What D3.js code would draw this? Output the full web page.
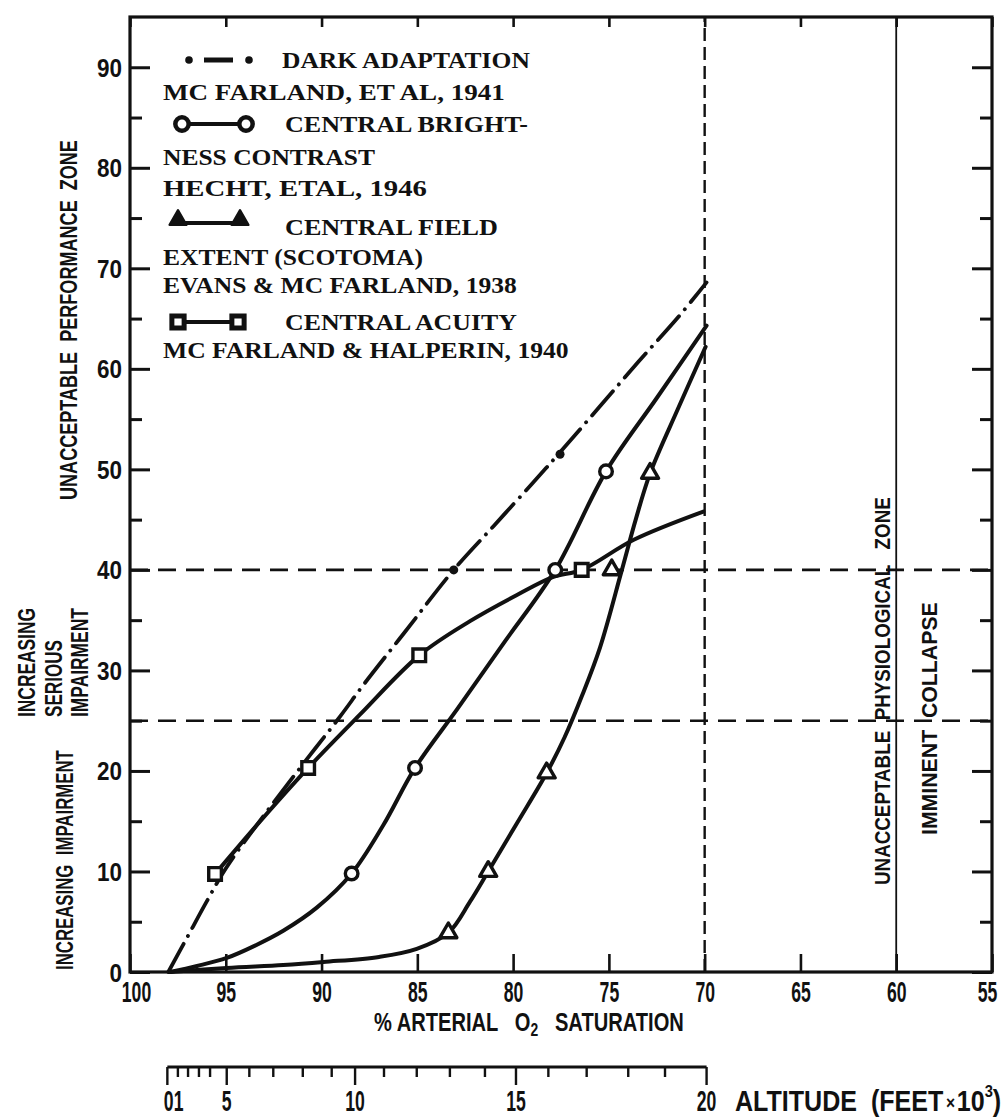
<!DOCTYPE html>
<html>
<head>
<meta charset="utf-8">
<script src="https://cdn.jsdelivr.net/npm/d3@7"></script>
<style>
html,body{margin:0;padding:0;background:#fff;}
svg{display:block;}
text{white-space:pre;}
</style>
</head>
<body>
<svg id="chart" width="1003" height="1118"></svg>
<script>
// ---------------- DATA ----------------
const saturationTicks = [100, 95, 90, 85, 80, 75, 70, 65, 60, 55];
const performanceMajorTicks = [0, 10, 20, 30, 40, 50, 60, 70, 80, 90];
const performanceMinorTicks = [5, 15, 25, 35, 45, 55, 65, 75, 85];
const zoneThresholds = [25, 40];
const dashedLimitSat = 70;
const collapseLimitSat = 60;

// Dark adaptation (McFarland et al., 1941)
const darkSat = [98, 97, 96, 95, 93, 91, 89, 87.8, 85.7, 83.1, 81, 79, 77.55, 75.5, 73.46, 71.4, 69.9];
const darkVal = [0, 3.5, 7, 10.3, 15.6, 20.6, 25.5, 28.6, 33.7, 40, 44.4, 48.6, 51.7, 56.2, 60.7, 65.1, 68.6];
const darkMarkSat = [83.1, 77.55];
const darkMarkVal = [40, 51.5];

// Central brightness contrast (Hecht et al., 1946)
const brightSat = [97.9, 96.5, 94.95, 93.5, 92, 90.25, 88.43, 86.78, 85.12, 82.9, 80.5, 77.8, 75.15, 72.5, 69.9];
const brightVal = [0, 0.6, 1.4, 2.6, 4.1, 6.4, 9.8, 14.6, 20.3, 26.2, 32.7, 40, 49.8, 57.1, 64.3];
const brightMarkSat = [88.43, 85.12, 77.8, 75.15];
const brightMarkVal = [9.8, 20.3, 40, 49.8];

// Central field extent (scotoma) (Evans & McFarland, 1938)
const fieldSat = [97.9, 94.95, 92, 89.9, 87, 85.03, 83.38, 82.25, 81.3, 79.8, 78.25, 77.3, 76.4, 75.46, 74.35, 73.6, 72.85, 71.4, 69.95];
const fieldVal = [0, 0.4, 0.7, 1.0, 1.5, 2.3, 3.9, 7.0, 10, 14.8, 19.8, 23.4, 27.5, 32.3, 39.8, 45, 49.6, 56, 62.2];
const fieldMarkSat = [83.38, 81.3, 78.25, 74.85, 72.85];
const fieldMarkVal = [3.9, 10, 19.8, 40, 49.6];

// Central acuity (McFarland & Halperin, 1940)
const acuitySat = [95.56, 93.2, 90.7, 88, 84.9, 82.25, 79.8, 77.9, 76.42, 73.7, 70.07];
const acuityVal = [9.75, 15, 20.3, 25.6, 31.5, 34.9, 37.5, 39.3, 40, 43, 45.8];
const acuityMarkSat = [95.56, 90.7, 84.9, 76.42];
const acuityMarkVal = [9.75, 20.3, 31.5, 40];

// Altitude ruler: thousands of feet and the matching arterial O2 saturation
const altitudeK = [0, 1, 2, 3, 4, 5, 6, 7, 8, 9, 10, 11, 12, 13, 14, 15, 16, 17, 18, 19, 20];
const altitudeSat = [98.05, 97.5, 96.97, 96.4, 95.82, 94.95, 93.77, 92.52, 90.98, 89.47, 88.25, 86.74, 85.03, 83.3, 81.47, 79.85, 78.16, 76.16, 73.99, 72.07, 69.9];
const altitudeMajor = [0, 5, 10, 15, 20];
const altitudeLabels = ["01", "5", "10", "15", "20"];
const altitudeLabelAt = [0.5, 5, 10, 15, 20];

const legendLines = ["DARK ADAPTATION", "MC FARLAND, ET AL, 1941", "CENTRAL BRIGHT-", "NESS CONTRAST",
  "HECHT, ETAL, 1946", "CENTRAL FIELD", "EXTENT (SCOTOMA)", "EVANS & MC FARLAND, 1938",
  "CENTRAL ACUITY", "MC FARLAND & HALPERIN, 1940"];

// ---------------- DRAWING ----------------
const INK = "#111";
const SANS = "'Liberation Sans', Arial, sans-serif";
const SERIF = "'Liberation Serif', 'DejaVu Serif', serif";
const svg = d3.select("#chart");
svg.append("rect").attr("width", 1003).attr("height", 1118).attr("fill", "#fff");

const x = d3.scaleLinear().domain([100, 55]).range([130, 992]);
const y = d3.scaleLinear().domain([0, 95]).range([972, 17]);
const zip = (a, b) => a.map((v, i) => [v, b[i]]);

// condense a text horizontally (in its own direction) to a target width
function squeeze(t, px, py, width, rotate) {
  const w = t.node().getComputedTextLength();
  const s = width / w;
  t.attr("x", null).attr("y", null).attr("dy", null)
    .attr("transform", `translate(${px},${py})${rotate ? " rotate(-90)" : ""} scale(${s},1)`);
  return t;
}
function label(parent, str, px, py, width, size, opts = {}) {
  const t = parent.append("text").text(str)
    .attr("font-family", opts.family || SANS).attr("font-weight", "bold")
    .attr("font-size", size).attr("fill", INK).attr("text-anchor", opts.anchor || "start");
  return squeeze(t, px, py, width, opts.rotate);
}

// Reference lines
const g = svg.append("g");
zoneThresholds.forEach(v => {
  g.append("line").attr("x1", x(100)).attr("x2", x(55)).attr("y1", y(v)).attr("y2", y(v))
    .attr("stroke", INK).attr("stroke-width", 2.6).attr("stroke-dasharray", "18,10");
});
g.append("line").attr("x1", x(dashedLimitSat)).attr("x2", x(dashedLimitSat)).attr("y1", y(0)).attr("y2", y(95))
  .attr("stroke", INK).attr("stroke-width", 2.4).attr("stroke-dasharray", "13,6");
g.append("line").attr("x1", x(collapseLimitSat)).attr("x2", x(collapseLimitSat)).attr("y1", y(0)).attr("y2", y(95))
  .attr("stroke", INK).attr("stroke-width", 1.8);

// Axes (ticks inward)
const axL = svg.append("g").attr("transform", `translate(${x(100)},0)`)
  .call(d3.axisLeft(y).tickValues(performanceMajorTicks).tickSize(-20).tickSizeOuter(0));
axL.append("g").call(d3.axisLeft(y).tickValues(performanceMinorTicks).tickSize(-12).tickFormat(""));
axL.selectAll("path.domain").remove();
axL.selectAll("line").attr("stroke", INK).attr("stroke-width", 3);
axL.selectAll("text").attr("font-family", SANS).attr("font-weight", "bold").attr("font-size", 26)
  .attr("fill", INK).attr("text-anchor", "end")
  .each(function(d) { squeeze(d3.select(this), -8, 9, String(d).length * 12.5); });

const axR = svg.append("g").attr("transform", `translate(${x(55)},0)`)
  .call(d3.axisRight(y).tickValues(performanceMajorTicks).tickSize(-20).tickFormat("").tickSizeOuter(0));
axR.append("g").call(d3.axisRight(y).tickValues(performanceMinorTicks).tickSize(-12).tickFormat(""));
axR.selectAll("path.domain").remove();
axR.selectAll("line").attr("stroke", INK).attr("stroke-width", 3);

const axB = svg.append("g").attr("transform", `translate(0,${y(0)})`)
  .call(d3.axisBottom(x).tickValues(saturationTicks).tickSize(-18).tickSizeOuter(0));
axB.selectAll("path.domain").remove();
axB.selectAll("line").attr("stroke", INK).attr("stroke-width", 2.6);
axB.selectAll("text").attr("font-family", SANS).attr("font-weight", "bold").attr("font-size", 30)
  .attr("fill", INK).attr("text-anchor", "middle")
  .each(function(d) { squeeze(d3.select(this), d === 100 ? 6 : (d === 55 ? -5 : 0), 30, String(d).length * 9.8); });

const axT = svg.append("g").attr("transform", `translate(0,${y(95)})`)
  .call(d3.axisTop(x).tickValues(saturationTicks).tickSize(-10).tickFormat("").tickSizeOuter(0));
axT.selectAll("path.domain").remove();
axT.selectAll("line").attr("stroke", INK).attr("stroke-width", 2.6);

// Frame
svg.append("rect").attr("x", x(100)).attr("y", y(95)).attr("width", x(55) - x(100)).attr("height", y(0) - y(95))
  .attr("fill", "none").attr("stroke", INK).attr("stroke-width", 3.2);

// Curves
const line = d3.line().x(d => x(d[0])).y(d => y(d[1])).curve(d3.curveCatmullRom.alpha(0.5));
const curves = svg.append("g").attr("fill", "none").attr("stroke", INK).attr("stroke-linejoin", "round");
curves.append("path").attr("d", line(zip(darkSat, darkVal))).attr("stroke-width", 3.8)
  .attr("stroke-dasharray", "32,9,0.1,9").attr("stroke-linecap", "round");
curves.append("path").attr("d", line(zip(brightSat, brightVal))).attr("stroke-width", 4).attr("stroke-linecap", "round");
curves.append("path").attr("d", line(zip(fieldSat, fieldVal))).attr("stroke-width", 4).attr("stroke-linecap", "round");
curves.append("path").attr("d", line(zip(acuitySat, acuityVal))).attr("stroke-width", 4).attr("stroke-linecap", "round");

// Markers
const sym = (type, size) => d3.symbol().type(type).size(size)();
const mk = svg.append("g");
mk.selectAll(".dk").data(zip(darkMarkSat, darkMarkVal)).join("circle")
  .attr("cx", d => x(d[0])).attr("cy", d => y(d[1])).attr("r", 4.5).attr("fill", INK);
mk.selectAll(".br").data(zip(brightMarkSat, brightMarkVal)).join("path").attr("class", "br")
  .attr("d", sym(d3.symbolCircle, 125)).attr("transform", d => `translate(${x(d[0])},${y(d[1])})`)
  .attr("fill", "#fff").attr("stroke", INK).attr("stroke-width", 3.4);
mk.selectAll(".fd").data(zip(fieldMarkSat, fieldMarkVal)).join("path").attr("class", "fd")
  .attr("d", sym(d3.symbolTriangle, 125)).attr("transform", d => `translate(${x(d[0])},${y(d[1])})`)
  .attr("fill", "#fff").attr("stroke", INK).attr("stroke-width", 3.4).attr("stroke-linejoin", "round");
mk.selectAll(".ac").data(zip(acuityMarkSat, acuityMarkVal)).join("path").attr("class", "ac")
  .attr("d", sym(d3.symbolSquare, 160)).attr("transform", d => `translate(${x(d[0])},${y(d[1])})`)
  .attr("fill", "#fff").attr("stroke", INK).attr("stroke-width", 3.4);

// Legend
const lg = svg.append("g");
const legendLayout = [[282, 68, 248], [163, 100, 342], [285, 132, 243], [163, 165, 212], [163, 196, 264],
  [285, 235, 213], [163, 265, 260], [163, 293, 354], [285, 330, 232], [163, 358, 406]];
legendLines.forEach((t, i) => {
  const [lx, ly, lw] = legendLayout[i];
  label(lg, t, lx, ly, lw, 23, { family: SERIF });
});
lg.append("circle").attr("cx", 189).attr("cy", 60).attr("r", 3.8).attr("fill", INK);
lg.append("line").attr("x1", 204).attr("x2", 233).attr("y1", 60).attr("y2", 60).attr("stroke", INK).attr("stroke-width", 5);
lg.append("circle").attr("cx", 249).attr("cy", 60).attr("r", 3.8).attr("fill", INK);

lg.append("line").attr("x1", 182).attr("x2", 246).attr("y1", 124).attr("y2", 124).attr("stroke", INK).attr("stroke-width", 4);
[182, 246].forEach(cx => lg.append("path").attr("d", sym(d3.symbolCircle, 140))
  .attr("transform", `translate(${cx},124)`).attr("fill", "#fff").attr("stroke", INK).attr("stroke-width", 4.5));

lg.append("line").attr("x1", 178).attr("x2", 240).attr("y1", 223).attr("y2", 223).attr("stroke", INK).attr("stroke-width", 4);
[178, 240].forEach(cx => lg.append("path").attr("d", sym(d3.symbolTriangle, 120))
  .attr("transform", `translate(${cx},220)`).attr("fill", INK).attr("stroke", INK).attr("stroke-width", 2.5).attr("stroke-linejoin", "round"));

lg.append("line").attr("x1", 178).attr("x2", 238).attr("y1", 322).attr("y2", 322).attr("stroke", INK).attr("stroke-width", 4);
[178, 238].forEach(cx => lg.append("path").attr("d", sym(d3.symbolSquare, 150))
  .attr("transform", `translate(${cx},322)`).attr("fill", "#fff").attr("stroke", INK).attr("stroke-width", 5));

// Rotated side labels
const side = svg.append("g");
label(side, "UNACCEPTABLE  PERFORMANCE  ZONE", 77, 500, 360, 24, { rotate: true });
label(side, "INCREASING", 35, 717, 109, 24, { rotate: true });
label(side, "SERIOUS", 61.5, 717, 77, 23, { rotate: true });
label(side, "IMPAIRMENT", 88, 717, 109, 24, { rotate: true });
label(side, "INCREASING  IMPAIRMENT", 73, 970, 220, 24, { rotate: true });
label(side, "UNACCEPTABLE  PHYSIOLOGICAL   ZONE", 890, 885, 388, 22, { rotate: true });
label(side, "IMMINENT  COLLAPSE", 937, 835, 233, 22, { rotate: true });

// X axis title (one text, subscript as tspan)
const xt = svg.append("text").attr("font-family", SANS).attr("font-weight", "bold").attr("font-size", 26).attr("fill", INK);
xt.append("tspan").text("% ARTERIAL   O");
xt.append("tspan").attr("font-size", 18).attr("dy", 5).text("2");
xt.append("tspan").attr("dy", -5).text("   SATURATION");
squeeze(xt, 374, 1031, 310);

// Altitude ruler
const alt = d3.scaleLinear().domain(altitudeK).range(altitudeSat);
const rulerY = 1067;
const ru = svg.append("g");
ru.append("line").attr("x1", x(alt(0))).attr("x2", x(alt(20))).attr("y1", rulerY).attr("y2", rulerY)
  .attr("stroke", INK).attr("stroke-width", 3);
ru.selectAll(".tk").data(altitudeK).join("line")
  .attr("x1", d => x(alt(d))).attr("x2", d => x(alt(d)))
  .attr("y1", rulerY).attr("y2", d => rulerY + (altitudeMajor.includes(d) ? 18 : 10))
  .attr("stroke", INK).attr("stroke-width", 2.4);
altitudeLabels.forEach((s, i) => {
  label(ru, s, x(alt(altitudeLabelAt[i])) + (i === 0 ? 1 : 0), 1111, s.length * 9.8, 30, { anchor: "middle" });
});
const at = svg.append("text").attr("font-family", SANS).attr("font-weight", "bold").attr("font-size", 29).attr("fill", INK);
at.append("tspan").text("ALTITUDE  (FEET");
at.append("tspan").attr("font-size", 18).attr("dx", 3).attr("dy", -2).text("×");
at.append("tspan").attr("dx", 2).attr("dy", 2).text("10");
at.append("tspan").attr("font-size", 17).attr("dy", -14).text("3");
at.append("tspan").attr("dy", 14).text(")");
squeeze(at, 735, 1111, 262);
</script>
</body>
</html>
